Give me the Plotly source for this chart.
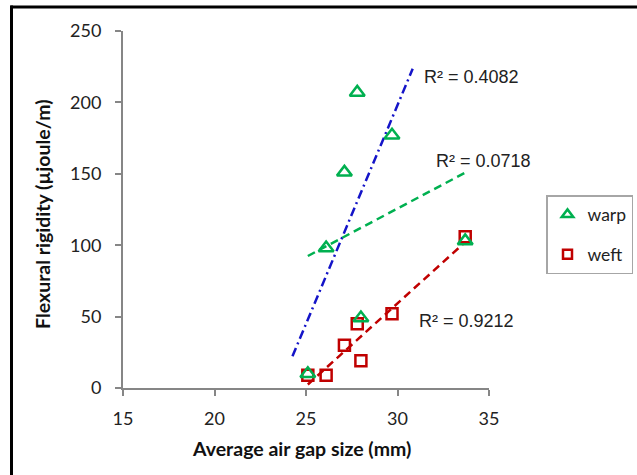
import numpy as np
import plotly.graph_objects as go

# ---- data ----
gap_x = [25.1, 26.1, 27.1, 27.8, 28.0, 29.7, 33.7]
warp_y = [10, 98, 151, 207, 49, 177, 103]
weft_y = [9, 9, 30, 45, 19, 52, 106]
blue_fit_idx = [0, 1, 2, 3, 4, 5]          # warp points used for dash-dot trend
blue_x_range = [24.26, 30.83]              # forecast backward/forward extent
r2_labels = ["R² = 0.4082", "R² = 0.0718", "R² = 0.9212"]
r2_pos = [(34.05, 217.5), (34.7, 159), (33.75, 47)]
x_ticks = [15, 20, 25, 30, 35]
y_ticks = [0, 50, 100, 150, 200, 250]

GREEN = "#00B050"
RED = "#C00000"
BLUE = "#1414C8"
AXIS = "#868686"

L, R, T, B = 123, 148, 31, 87
W, H = 637, 475
pw, ph = W - L - R, H - T - B


def px_x(p):
    return (p - L) / pw


def px_y(p):
    return (H - B - p) / ph


def linfit(xs, ys, xr):
    k, b = np.polyfit(xs, ys, 1)
    xr = np.array(xr, dtype=float)
    return xr, k * xr + b


fig = go.Figure()

# trendlines
bx = [gap_x[i] for i in blue_fit_idx]
by = [warp_y[i] for i in blue_fit_idx]
tx, ty = linfit(bx, by, blue_x_range)
fig.add_trace(go.Scatter(x=tx, y=ty, mode="lines", showlegend=False,
                         line=dict(color=BLUE, width=2.5, dash="9px,4px,2px,4px")))
tx, ty = linfit(gap_x, warp_y, [min(gap_x), max(gap_x)])
fig.add_trace(go.Scatter(x=tx, y=ty, mode="lines", showlegend=False,
                         line=dict(color=GREEN, width=2.5, dash="8px,5px")))
tx, ty = linfit(gap_x, weft_y, [min(gap_x), max(gap_x)])
fig.add_trace(go.Scatter(x=tx, y=ty, mode="lines", showlegend=False,
                         line=dict(color=RED, width=2.5, dash="8px,5px")))

# markers
fig.add_trace(go.Scatter(x=gap_x, y=weft_y, mode="markers", showlegend=False,
                         marker=dict(symbol="square-open", size=11, color=RED,
                                     line=dict(width=2.5, color=RED))))
fig.add_trace(go.Scatter(x=gap_x, y=warp_y, mode="markers", showlegend=False,
                         marker=dict(symbol="triangle-up-open", size=13, color=GREEN,
                                     line=dict(width=2.5, color=GREEN))))

# legend entries
fig.add_trace(go.Scatter(x=[None], y=[None], mode="markers", name="warp", legendgroup="a",
                         marker=dict(symbol="triangle-up-open", size=10, color=GREEN,
                                     line=dict(width=2.5, color=GREEN))))
fig.add_trace(go.Scatter(x=[None], y=[None], mode="markers", name="weft", legendgroup="b",
                         marker=dict(symbol="square-open", size=9, color=RED,
                                     line=dict(width=2.5, color=RED))))

for txt, (ax, ay) in zip(r2_labels, r2_pos):
    fig.add_annotation(x=ax, y=ay, text=txt, showarrow=False, xanchor="center", yanchor="middle",
                       font=dict(family="Liberation Sans, Arial", size=18, color="#222222"))

# axis titles
fig.add_annotation(x=px_x(301.5), y=px_y(448), xref="paper", yref="paper",
                   text="<b>Average air gap size (mm)</b>", showarrow=False,
                   xanchor="center", yanchor="middle",
                   font=dict(family="Lato", size=19.5, color="#111111"))
fig.add_annotation(x=px_x(43), y=px_y(214), xref="paper", yref="paper",
                   text="<b>Flexural rigidity (µjoule/m)</b>", showarrow=False, textangle=-90,
                   xanchor="center", yanchor="middle",
                   font=dict(family="Lato", size=19.5, color="#111111"))

# outer frame (top and left)
fig.add_shape(type="line", xref="paper", yref="paper", x0=px_x(10.5), x1=px_x(640),
              y0=px_y(7), y1=px_y(7), line=dict(color="#000000", width=3))
fig.add_shape(type="line", xref="paper", yref="paper", x0=px_x(11.5), x1=px_x(11.5),
              y0=px_y(5.5), y1=px_y(480), line=dict(color="#000000", width=3))

fig.update_xaxes(range=[15, 35], tickvals=x_ticks, showgrid=False, zeroline=False,
                 showline=True, linecolor=AXIS, linewidth=2, ticks="outside", ticklen=6,
                 tickcolor=AXIS, tickwidth=2, ticklabelstandoff=7,
                 tickfont=dict(family="Lato", size=18, color="#222222"))
fig.update_yaxes(range=[0, 250], tickvals=y_ticks, showgrid=False, zeroline=False,
                 showline=True, linecolor=AXIS, linewidth=2, ticks="outside", ticklen=6,
                 tickcolor=AXIS, tickwidth=2, ticklabelstandoff=10,
                 tickfont=dict(family="Lato", size=18, color="#222222"))

fig.update_layout(
    width=W, height=H,
    margin=dict(l=L, r=R, t=T, b=B, autoexpand=False),
    paper_bgcolor="white", plot_bgcolor="white",
    legend=dict(x=px_x(546), y=px_y(195), xanchor="left", yanchor="top",
                bordercolor="#A6A6A6", borderwidth=1.5, bgcolor="white",
                tracegroupgap=14, itemwidth=30,
                font=dict(family="Lato", size=17.5, color="#222222")),
)

fig.write_html("out.html")
